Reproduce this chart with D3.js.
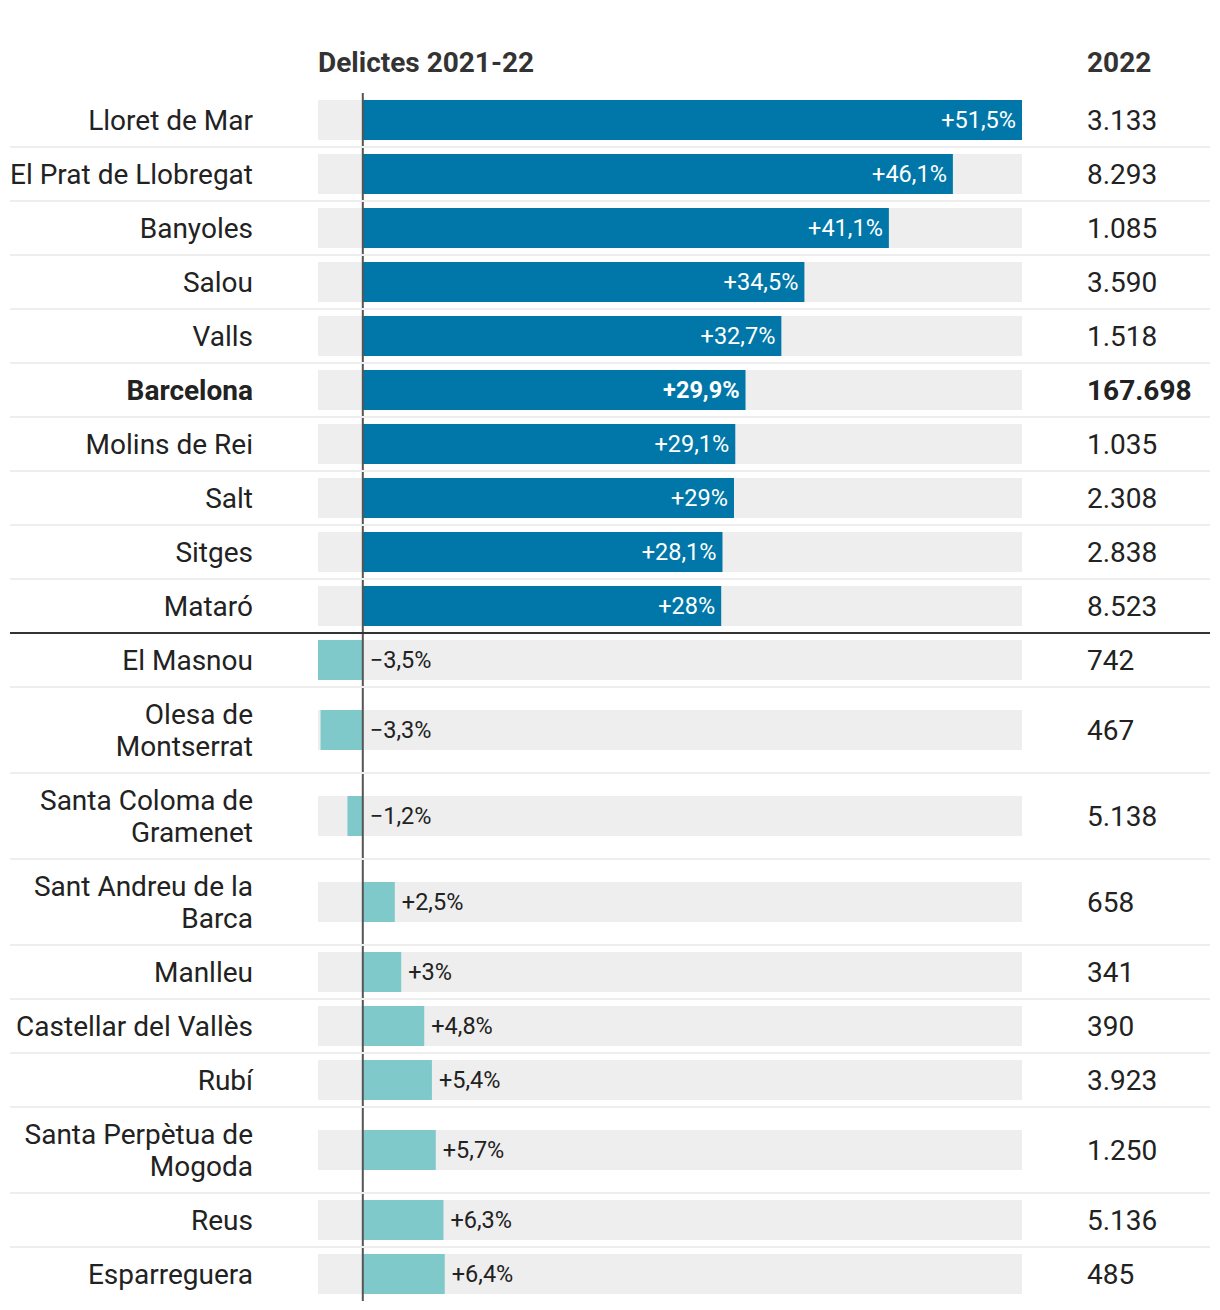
<!DOCTYPE html>
<html><head><meta charset="utf-8">
<script src="https://cdn.jsdelivr.net/npm/d3@7"></script>
<style>
html,body{margin:0;padding:0;background:#fff;}
svg{display:block;font-family:Roboto,"Noto Sans",sans-serif;}
</style></head>
<body><svg id="chart" width="1220" height="1310"></svg>
<script>
const names = ["Lloret de Mar","El Prat de Llobregat","Banyoles","Salou","Valls","Barcelona","Molins de Rei","Salt","Sitges","Mataró","El Masnou","Olesa de Montserrat","Santa Coloma de Gramenet","Sant Andreu de la Barca","Manlleu","Castellar del Vallès","Rubí","Santa Perpètua de Mogoda","Reus","Esparreguera"];
const change = [51.5,46.1,41.1,34.5,32.7,29.9,29.1,29,28.1,28,-3.5,-3.3,-1.2,2.5,3,4.8,5.4,5.7,6.3,6.4];
const total2022 = [3133,8293,1085,3590,1518,167698,1035,2308,2838,8523,742,467,5138,658,341,390,3923,1250,5136,485];
const groups = ["top","top","top","top","top","top","top","top","top","top","bottom","bottom","bottom","bottom","bottom","bottom","bottom","bottom","bottom","bottom"];
const highlighted = ["Barcelona"];
const headers = ["Delictes 2021-22","2022"];

const svg = d3.select("#chart");
const loc = d3.formatLocale({decimal:",",thousands:".",grouping:[3],currency:["","€"],minus:"\u2212"});
const fmtTotal = loc.format(",d");
const fmtPct = v => (v >= 0 ? "+" : "\u2212") + loc.format(Number.isInteger(v) ? "d" : ".1f")(Math.abs(v)) + "%";

const colors = {top:"#0077a8", bottom:"#7fc9ca"};
const x = d3.scaleLinear().domain([d3.min(change), d3.max(change)]).range([318, 1022]);

const labelRight = 253, valueX = 1087, lineLeft = 10, lineRight = 1210;
const fontSize = 28, pctSize = 23.5, lineH = 32, baseRowH = 54, barH = 40;
const wrapWidth = 246;

// measure & wrap
const meas = svg.append("text").attr("font-size", fontSize).attr("visibility","hidden");
function wrap(name, bold){
  meas.attr("font-weight", bold ? 700 : 400);
  const words = name.split(" ");
  const lines = []; let cur = "";
  words.forEach(w => {
    const test = cur ? cur + " " + w : w;
    meas.text(test);
    if (meas.node().getComputedTextLength() > wrapWidth && cur) { lines.push(cur); cur = w; }
    else cur = test;
  });
  if (cur) lines.push(cur);
  return lines;
}

let y0 = 93;
const rows = names.map((n, i) => {
  const bold = highlighted.includes(n);
  const lines = wrap(n, bold);
  const h = baseRowH + (lines.length - 1) * lineH;
  const r = {name:n, v:change[i], total:total2022[i], group:groups[i], bold, lines, top:y0, h, cy:y0 + h/2};
  y0 += h;
  return r;
});
meas.remove();

// headers
svg.append("text").attr("x", 318).attr("y", 72).attr("font-size", fontSize).attr("font-weight", 700).attr("fill", "#333").text(headers[0]);
svg.append("text").attr("x", valueX).attr("y", 72).attr("font-size", fontSize).attr("font-weight", 700).attr("fill", "#333").text(headers[1]);

const g = svg.append("g");
const row = g.selectAll("g.row").data(rows).join("g").attr("class","row");

// background bars
row.append("rect").attr("x", x.range()[0]).attr("width", x.range()[1] - x.range()[0])
  .attr("y", d => d.cy - barH/2).attr("height", barH).attr("fill", "#eeeeee");
// value bars
row.append("rect").attr("x", d => x(Math.min(0, d.v))).attr("width", d => Math.abs(x(d.v) - x(0)))
  .attr("y", d => d.cy - barH/2).attr("height", barH).attr("fill", d => colors[d.group]);

// zero line
svg.append("line").attr("x1", x(0)).attr("x2", x(0)).attr("y1", rows[0].top).attr("y2", y0)
  .attr("stroke", "#555").attr("stroke-width", 2);

// separators
const sep = svg.append("g");
rows.forEach((d, i) => {
  if (i === rows.length - 1) return;
  const yy = d.top + d.h;
  const strong = d.group !== rows[i+1].group;
  sep.append("line").attr("x1", lineLeft).attr("x2", lineRight).attr("y1", yy).attr("y2", yy)
    .attr("stroke", strong ? "#333" : "#eeeeee").attr("stroke-width", 2);
});

// labels
const lab = svg.append("g").selectAll("text").data(rows).join("text")
  .attr("x", labelRight).attr("text-anchor", "end").attr("font-size", fontSize)
  .attr("font-weight", d => d.bold ? 700 : 400).attr("fill", "#222");
lab.each(function(d){
  const t = d3.select(this);
  const n = d.lines.length;
  d.lines.forEach((l, k) => {
    t.append("tspan").attr("x", labelRight)
      .attr("y", d.cy + (k - (n-1)/2) * lineH).attr("dy", "0.35em").text(l);
  });
});

// pct labels
svg.append("g").selectAll("text").data(rows).join("text")
  .attr("font-size", pctSize)
  .attr("font-weight", d => d.bold ? 700 : 400)
  .attr("y", d => d.cy).attr("dy", "0.35em")
  .attr("text-anchor", d => d.group === "top" ? "end" : "start")
  .attr("x", d => d.group === "top" ? x(d.v) - 6 : x(Math.max(0, d.v)) + 7)
  .attr("fill", d => d.group === "top" ? "#fff" : "#222")
  .text(d => fmtPct(d.v));

// totals
svg.append("g").selectAll("text").data(rows).join("text")
  .attr("x", valueX).attr("y", d => d.cy).attr("dy", "0.35em")
  .attr("font-size", fontSize).attr("font-weight", d => d.bold ? 700 : 400).attr("fill", "#222")
  .text(d => fmtTotal(d.total));
</script></body></html>
